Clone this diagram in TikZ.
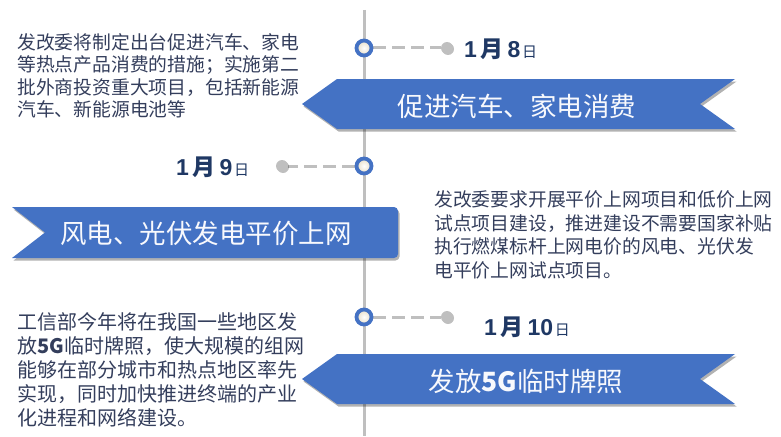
\documentclass[tikz,border=0pt]{standalone}
\usepackage{fontspec}
\setmainfont{Liberation Sans}
\newfontfamily\cjk{Noto Sans CJK SC}
\usetikzlibrary{shadows,backgrounds}
\definecolor{bannerblue}{RGB}{68,114,196}
\definecolor{bodytext}{RGB}{52,62,92}
\definecolor{datecol}{RGB}{31,56,100}
\definecolor{linegray}{RGB}{191,191,191}
\definecolor{beige}{RGB}{232,222,198}
\tikzset{
  banner/.style={fill=bannerblue, drop shadow={shadow xshift=1.5pt, shadow yshift=-2.5pt, opacity=0.3, fill=black}},
  bodytxt/.style={text=bodytext, align=left, anchor=west, inner sep=0pt},
  bannertxt/.style={text=white!96!bannerblue, inner sep=0pt, font=\cjk\fontsize{26.5}{30}\selectfont},
  ring/.style={circle, draw=bannerblue, line width=3.8pt, inner color=white, outer color=beige, minimum size=15pt, inner sep=0pt},
  graydot/.style={circle, fill=linegray, minimum size=12pt, inner sep=0pt, drop shadow={shadow xshift=1pt, shadow yshift=-1pt, opacity=0.25, fill=black}},
  dashline/.style={draw=linegray, line width=3pt, dash pattern=on 13pt off 6pt},
  vline/.style={draw=linegray, line width=3pt},
  datetxt/.style={text=datecol, inner sep=0pt, anchor=west},
}
\newcommand{\mydate}[2]{{\fontsize{23}{23}\selectfont\bfseries #1\,{\cjk 月}\,#2}\,{\cjk\fontsize{15}{15}\selectfont 日}}
\begin{document}
\begin{tikzpicture}[x=1pt, y=-1pt]
\useasboundingbox (0,0) rectangle (781,436);
% timeline coordinates
\coordinate (vtop) at (364,10);
\coordinate (vbot) at (364,436);
% banners
\path[banner] (302,104) -- (337,79) -- (735,79) -- (700,104) -- (735,129) -- (337,129) -- cycle;
\path[banner, rounded corners=0pt] (12,207) -- (394,207) [rounded corners=4pt] -- (398,207) -- (398,258) [rounded corners=0pt] -- (394,258) -- (12,258) -- (45,232.5) -- cycle;
\path[banner] (302,379) -- (337,354) -- (735,354) -- (700,379) -- (735,404) -- (337,404) -- cycle;
% banner texts
\node[bannertxt] (b1) at (517,106) {促进汽车、家电消费};
\node[bannertxt] (b2) at (206,233) {风电、光伏发电平价上网};
\node[bannertxt] (b3) at (526,381) {发放\textbf{5G}临时牌照};
% rings and dots
\node[ring] (c1) at (364,48) {};
\node[ring] (c2) at (364,166) {};
\node[ring] (c3) at (364,317) {};
\node[graydot] (d1) at (447,48) {};
\node[graydot] (d2) at (282,166) {};
\node[graydot] (d3) at (447,317) {};
% dates
\node[datetxt] (t1) at (464,49) {\mydate{1}{8}};
\node[datetxt] (t2) at (176,167) {\mydate{1}{9}};
\node[datetxt] (t3) at (484,327) {\mydate{1}{10}};
% body texts
\node[bodytxt, font=\cjk\fontsize{18.8}{22.4}\selectfont] (p1) at (17,76) {发改委将制定出台促进汽车、家电\\等热点产品消费的措施；实施第二\\批外商投资重大项目，包括新能源\\汽车、新能源电池等};
\node[bodytxt, font=\cjk\fontsize{18.8}{23.7}\selectfont] (p2) at (434,235) {发改委要求开展平价上网项目和低价上网\\试点项目建设，推进建设不需要国家补贴\\执行燃煤标杆上网电价的风电、光伏发\\电平价上网试点项目。};
\node[bodytxt, font=\cjk\fontsize{20}{24}\selectfont] (p3) at (17,370) {工信部今年将在我国一些地区发\\放\textbf{5G}临时牌照，使大规模的组网\\能够在部分城市和热点地区率先\\实现，同时加快推进终端的产业\\化进程和网络建设。};
% connectors behind
\begin{scope}[on background layer]
\draw[vline] (vtop) -- (vbot);
\draw[dashline] (c1) -- (d1);
\draw[dashline] (c2) -- (d2);
\draw[dashline] (c3) -- (d3);
\end{scope}
\end{tikzpicture}
\end{document}
